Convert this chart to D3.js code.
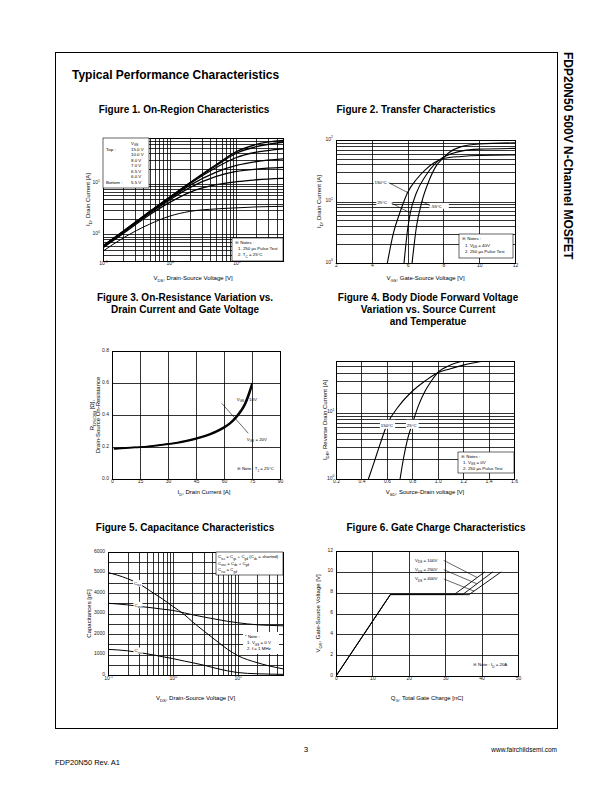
<!DOCTYPE html>
<html><head><meta charset="utf-8">
<script src="https://cdn.jsdelivr.net/npm/d3@7/dist/d3.min.js"></script>
<style>html,body{margin:0;padding:0;background:#fff;}svg{display:block}</style>
</head><body>
<script>
// ===== Figure 1: On-Region Characteristics =====
const fig1VDS = [0.1, 0.2, 0.5, 1, 2, 5, 10, 20, 50];
const fig1VGS = ["15.0 V", "10.0 V", "8.0 V", "7.0 V", "6.5 V", "6.0 V", "5.5 V"];
const fig1ID_15V  = [0.60, 1.16, 2.85, 5.5, 10.5, 24, 43, 60, 72];
const fig1ID_10V  = [0.60, 1.15, 2.82, 5.4, 10.3, 23, 40, 54, 66];
const fig1ID_8V   = [0.59, 1.13, 2.77, 5.3, 10.0, 21, 33, 42, 49];
const fig1ID_7V   = [0.58, 1.11, 2.70, 5.1, 9.3, 17, 23, 27.5, 31];
const fig1ID_6_5V = [0.57, 1.09, 2.62, 4.8, 8.4, 14, 17.5, 19.5, 21];
const fig1ID_6V   = [0.55, 1.04, 2.45, 4.3, 6.8, 9.6, 11, 12, 12.8];
const fig1ID_5_5V = [0.47, 0.85, 1.60, 2.3, 2.85, 3.2, 3.35, 3.5, 3.6];
const fig1XTicks = [0.1, 1, 10];
const fig1XTickLabels = ["10^{-1}", "10^{0}", "10^{1}"];
const fig1YTicks = [1, 10];
const fig1YTickLabels = ["10^{0}", "10^{1}"];

// ===== Figure 2: Transfer Characteristics =====
const fig2Temps = ["150°C", "25°C", "-55°C"];
const fig2VGS_150 = [4.87, 5.2, 5.6, 6.0, 6.5, 7.0, 7.5, 8.0, 9, 10, 12];
const fig2ID_150  = [1, 3, 7, 14, 23, 33, 43, 50, 54, 56, 57];
const fig2VGS_25  = [5.8, 6.0, 6.15, 6.5, 7.0, 7.5, 7.8, 8.2, 9, 10, 12];
const fig2ID_25   = [1, 3.5, 6.5, 14, 26, 40, 48, 56, 66, 71, 73];
const fig2VGS_m55 = [6.25, 6.5, 6.8, 7.2, 7.6, 7.9, 8.3, 9, 10, 12];
const fig2ID_m55  = [1, 4, 10, 22, 38, 48, 62, 78, 86, 90];
const fig2XTicks = [2, 4, 6, 8, 10, 12];
const fig2XTickLabels = ["2", "4", "6", "8", "10", "12"];
const fig2YTicks = [1, 10, 100];
const fig2YTickLabels = ["10^{0}", "10^{1}", "10^{2}"];

// ===== Figure 3: On-Resistance vs Drain Current =====
const fig3ID = [1, 5, 10, 15, 20, 25, 30, 35, 40, 45, 50, 55, 60, 63, 66, 69, 71, 73, 75];
const fig3R_10V = [0.19, 0.193, 0.197, 0.2, 0.205, 0.212, 0.22, 0.228, 0.24, 0.255, 0.272, 0.295, 0.325, 0.35, 0.385, 0.43, 0.47, 0.53, 0.6];
const fig3R_20V = [0.188, 0.191, 0.195, 0.198, 0.203, 0.21, 0.217, 0.225, 0.236, 0.25, 0.267, 0.289, 0.318, 0.342, 0.375, 0.418, 0.455, 0.51, 0.58];
const fig3XTicks = [0, 15, 30, 45, 60, 75, 90];
const fig3XTickLabels = ["0", "15", "30", "45", "60", "75", "90"];
const fig3YTicks = [0, 0.2, 0.4, 0.6, 0.8];
const fig3YTickLabels = ["0.0", "0.2", "0.4", "0.6", "0.8"];

// ===== Figure 4: Body Diode Forward Voltage =====
const fig4VSD_150 = [0.455, 0.5, 0.55, 0.6, 0.7, 0.8, 0.9, 1.0, 1.1, 1.2, 1.3, 1.37];
const fig4IS_150  = [1, 1.8, 3.5, 6.5, 13, 21, 30, 40, 46, 52, 57, 60];
const fig4VSD_25  = [0.704, 0.73, 0.76, 0.8, 0.85, 0.9, 0.95, 1.0, 1.1, 1.2];
const fig4IS_25   = [1, 2, 3.8, 6.8, 13, 21, 30, 40, 52, 60];
const fig4XTicks = [0.2, 0.4, 0.6, 0.8, 1.0, 1.2, 1.4, 1.6];
const fig4XTickLabels = ["0.2", "0.4", "0.6", "0.8", "1.0", "1.2", "1.4", "1.6"];
const fig4YTicks = [1, 10];
const fig4YTickLabels = ["10^{0}", "10^{1}"];

// ===== Figure 5: Capacitance Characteristics =====
const fig5VDS  = [0.1, 0.2, 0.3, 0.5, 0.7, 1, 1.5, 2, 3, 5, 7, 10, 20, 30, 50];
const fig5Ciss = [5000, 4700, 4450, 4000, 3700, 3350, 2950, 2600, 2150, 1600, 1250, 950, 600, 450, 300];
const fig5Coss = [3500, 3420, 3350, 3270, 3210, 3150, 3030, 2940, 2830, 2700, 2620, 2550, 2450, 2420, 2400];
const fig5Crss = [1250, 1180, 1100, 980, 890, 800, 680, 600, 480, 300, 200, 120, 60, 45, 30];
const fig5XTicks = [0.1, 1, 10];
const fig5XTickLabels = ["10^{-1}", "10^{0}", "10^{1}"];
const fig5YTicks = [0, 1000, 2000, 3000, 4000, 5000, 6000];
const fig5YTickLabels = ["0", "1000", "2000", "3000", "4000", "5000", "6000"];

// ===== Figure 6: Gate Charge Characteristics =====
const fig6Series = ["100V", "250V", "400V"];
const fig6QG_100V = [0, 15, 32.6, 40.9];
const fig6QG_250V = [0, 15, 34.9, 43.1];
const fig6QG_400V = [0, 15, 36.7, 45.4];
const fig6VGS     = [0, 7.85, 7.85, 10];
const fig6XTicks = [0, 10, 20, 30, 40, 50];
const fig6XTickLabels = ["0", "10", "20", "30", "40", "50"];
const fig6YTicks = [0, 2, 4, 6, 8, 10, 12];
const fig6YTickLabels = ["0", "2", "4", "6", "8", "10", "12"];

// ---------------- drawing ----------------
const TICK_FS = 5, AX_FS = 6, NOTE_FS = 4.4;
const svg = d3.select("body").append("svg").attr("width", 612).attr("height", 792)
  .style("font-family", "'Liberation Sans', Arial, Helvetica, sans-serif");

function parseRich(s) {
  const parts = []; const re = /([_^])\{([^}]*)\}/g; let last = 0, m;
  while ((m = re.exec(s))) {
    if (m.index > last) parts.push([s.slice(last, m.index), ""]);
    parts.push([m[2], m[1] === "_" ? "sub" : "sup"]);
    last = re.lastIndex;
  }
  if (last < s.length) parts.push([s.slice(last), ""]);
  return parts;
}
function rich(sel, s, fs) {
  sel.text(null);
  let cur = 0;
  parseRich(s).forEach(([t, k]) => {
    const off = k === "sub" ? fs * 0.35 : k === "sup" ? -fs * 0.45 : 0;
    const ts = sel.append("tspan").attr("dy", (off - cur).toFixed(2)).text(t);
    if (k) ts.attr("font-size", (fs * 0.7).toFixed(2));
    cur = off;
  });
  return sel;
}
function txt(parent, x, y, s, fs, o = {}) {
  const t = parent.append("text").attr("x", x).attr("y", y).attr("font-size", fs)
    .attr("fill", o.fill || "#000").attr("text-anchor", o.anchor || "start");
  if (o.weight) t.attr("font-weight", o.weight);
  if (o.rotate) t.attr("transform", `rotate(${o.rotate},${x},${y})`);
  rich(t, s, fs);
  return t;
}
function logGrid(lo, hi) {
  const v = [];
  for (let e = Math.floor(Math.log10(lo)); e <= Math.ceil(Math.log10(hi)); e++)
    for (let k = 1; k <= 9; k++) { const t = k * Math.pow(10, e); if (t > lo * 1.0001 && t < hi * 0.9999) v.push(+t.toPrecision(6)); }
  return v;
}
let clipN = 0;
function panel(c) {
  const x = (c.xLog ? d3.scaleLog() : d3.scaleLinear()).domain(c.xDomain).range([c.x0, c.x1]);
  const y = (c.yLog ? d3.scaleLog() : d3.scaleLinear()).domain(c.yDomain).range([c.y1, c.y0]);
  const g = svg.append("g");
  const id = "clip" + (clipN++);
  const W = c.x1 - c.x0, H = c.y1 - c.y0;
  g.append("clipPath").attr("id", id).append("rect").attr("x", c.x0).attr("y", c.y0).attr("width", W).attr("height", H);
  const gx = g.append("g").attr("transform", `translate(0,${c.y1})`)
    .call(d3.axisBottom(x).tickValues(c.xGrid).tickSize(-H).tickFormat(""));
  const gy = g.append("g").attr("transform", `translate(${c.x0},0)`)
    .call(d3.axisLeft(y).tickValues(c.yGrid).tickSize(-W).tickFormat(""));
  [gx, gy].forEach(s => { s.select(".domain").remove(); s.selectAll("line").attr("stroke", "#000").attr("stroke-width", c.gridW || 0.8).attr("shape-rendering", "crispEdges"); });
  const ax = g.append("g").attr("transform", `translate(0,${c.y1})`)
    .call(d3.axisBottom(x).tickValues(c.xTicks).tickSize(c.tick || 0).tickPadding(c.xPad || 4).tickFormat((d, i) => c.xTickLabels[i]));
  const ay = g.append("g").attr("transform", `translate(${c.x0},0)`)
    .call(d3.axisLeft(y).tickValues(c.yTicks).tickSize(c.tick || 0).tickPadding(c.yPad || 3).tickFormat((d, i) => c.yTickLabels[i]));
  [ax, ay].forEach(s => {
    s.select(".domain").remove(); s.attr("font-family", null).attr("font-size", null);
    s.selectAll("line").attr("stroke", "#000").attr("stroke-width", 0.6);
    s.selectAll("text").attr("font-size", TICK_FS).attr("fill", "#222")
      .each(function () { const t = d3.select(this); rich(t, t.text(), TICK_FS); });
  });
  const plot = g.append("g").attr("clip-path", `url(#${id})`);
  g.append("rect").attr("x", c.x0).attr("y", c.y0).attr("width", W).attr("height", H)
    .attr("fill", "none").attr("stroke", "#000").attr("stroke-width", 1).attr("shape-rendering", "crispEdges");
  txt(g, (c.x0 + c.x1) / 2 + (c.xLabelDx || 0), c.xLabelY, c.xLabel, AX_FS, { anchor: "middle" });
  c.yLabel.forEach((l, i) => txt(g, c.yLabelX[i], (c.y0 + c.y1) / 2, l, AX_FS, { anchor: "middle", rotate: -90 }));
  const ann = g.append("g");
  return { g, plot, ann, x, y };
}
function curve(p, xs, ys, w, opts = {}) {
  p.plot.append("path").datum(xs.map((v, i) => [v, ys[i]]))
    .attr("fill", "none").attr("stroke", opts.color || "#000").attr("stroke-width", w || 1)
    .attr("stroke-linejoin", "round")
    .attr("d", d3.line().x(d => p.x(d[0])).y(d => p.y(d[1])).curve(opts.linear ? d3.curveLinear : d3.curveMonotoneX));
}
function box(parent, x0, y0, x1, y1, stroke) {
  parent.append("rect").attr("x", x0).attr("y", y0).attr("width", x1 - x0).attr("height", y1 - y0)
    .attr("fill", "#fff").attr("stroke", stroke === false ? "none" : "#000").attr("stroke-width", 0.6);
}
function arrow(parent, x1, y1, x2, y2) {
  parent.append("line").attr("x1", x1).attr("y1", y1).attr("x2", x2).attr("y2", y2)
    .attr("stroke", "#000").attr("stroke-width", 0.6);
}

// page frame and headings
svg.append("rect").attr("x", 55).attr("y", 52).attr("width", 502).attr("height", 676)
  .attr("fill", "none").attr("stroke", "#000").attr("stroke-width", 1).attr("shape-rendering", "crispEdges");
txt(svg, 72, 79, "Typical Performance Characteristics", 12, { weight: "bold" });
svg.append("text").attr("transform", "translate(564,52) rotate(90)").attr("font-size", 12)
  .attr("font-weight", "bold").text("FDP20N50  500V N-Channel MOSFET");
txt(svg, 306, 752, "3", 8, { anchor: "middle" });
txt(svg, 557, 752, "www.fairchildsemi.com", 6.5, { anchor: "end" });
txt(svg, 55, 765, "FDP20N50 Rev. A1", 7.5);

const TFS = 10;
txt(svg, 184, 112.5, "Figure 1. On-Region Characteristics", TFS, { anchor: "middle", weight: "bold" });
txt(svg, 416, 112.5, "Figure 2. Transfer Characteristics", TFS, { anchor: "middle", weight: "bold" });
txt(svg, 185, 300.5, "Figure 3. On-Resistance Variation vs.", TFS, { anchor: "middle", weight: "bold" });
txt(svg, 185, 312.5, "Drain Current and Gate Voltage", TFS, { anchor: "middle", weight: "bold" });
txt(svg, 428, 300.5, "Figure 4. Body Diode Forward Voltage", TFS, { anchor: "middle", weight: "bold" });
txt(svg, 428, 312.5, "Variation vs. Source Current", TFS, { anchor: "middle", weight: "bold" });
txt(svg, 428, 324.5, "and Temperatue", TFS, { anchor: "middle", weight: "bold" });
txt(svg, 185, 531, "Figure 5. Capacitance Characteristics", TFS, { anchor: "middle", weight: "bold" });
txt(svg, 436, 531, "Figure 6. Gate Charge Characteristics", TFS, { anchor: "middle", weight: "bold" });

// ---- Figure 1 ----
{
  const p = panel({ x0: 103, x1: 283, y0: 138, y1: 261, xLog: true, yLog: true, xDomain: [0.1, 50], yDomain: [0.3, 80],
    xGrid: logGrid(0.1, 50), yGrid: logGrid(0.3, 80), xTicks: fig1XTicks, xTickLabels: fig1XTickLabels,
    yTicks: fig1YTicks, yTickLabels: fig1YTickLabels, xLabel: "V_{DS}, Drain-Source Voltage [V]", xLabelY: 280,
    yLabel: ["I_{D}, Drain Current [A]"], yLabelX: [90] });
  [fig1ID_15V, fig1ID_10V, fig1ID_8V, fig1ID_7V, fig1ID_6_5V, fig1ID_6V].forEach(s => curve(p, fig1VDS, s, 1.3));
  curve(p, fig1VDS, fig1ID_5_5V, 1.0);
  box(p.ann, 103, 138, 149, 188);
  txt(p.ann, 131, 144.5, "V_{GS}", NOTE_FS);
  txt(p.ann, 106, 150.5, "Top :", NOTE_FS);
  txt(p.ann, 106, 184, "Bottom :", NOTE_FS);
  fig1VGS.forEach((v, i) => txt(p.ann, 131, 150.5 + i * 5.58, v, NOTE_FS));
  box(p.ann, 232, 238, 283, 261);
  txt(p.ann, 235, 244, "※ Notes :", NOTE_FS);
  txt(p.ann, 238, 250, "1. 250 μs Pulse Test", NOTE_FS);
  txt(p.ann, 238, 256, "2. T_{C} = 25°C", NOTE_FS);
}

// ---- Figure 2 ----
{
  const p = panel({ x0: 336, x1: 515, y0: 140, y1: 263, yLog: true, xDomain: [2, 12], yDomain: [1, 100],
    xGrid: [4, 6, 8, 10], yGrid: logGrid(1, 100), xTicks: fig2XTicks, xTickLabels: fig2XTickLabels,
    yTicks: fig2YTicks, yTickLabels: fig2YTickLabels, xLabel: "V_{GS}, Gate-Source Voltage [V]", xLabelY: 280,
    yLabel: ["I_{D}, Drain Current [A]"], yLabelX: [321] });
  curve(p, fig2VGS_150, fig2ID_150, 1.1);
  curve(p, fig2VGS_25, fig2ID_25, 1.1);
  curve(p, fig2VGS_m55, fig2ID_m55, 1.1);
  const a = p.ann, x = p.x, y = p.y;
  box(a, x(4.1), y(23), x(5.0), y(18.2), false);
  txt(a, x(4.15), y(19.2), fig2Temps[0], NOTE_FS);
  arrow(a, x(4.95), y(20.2), x(6.0), y(14));
  box(a, x(4.25), y(11), x(5.15), y(8.6), false);
  txt(a, x(4.3), y(9.1), fig2Temps[1], NOTE_FS);
  arrow(a, x(5.1), y(9.4), x(6.15), y(6.5));
  box(a, x(7.22), y(9.5), x(8.3), y(7.6), false);
  txt(a, x(7.28), y(7.95), fig2Temps[2], NOTE_FS);
  arrow(a, x(7.25), y(8.6), x(6.8), y(10));
  box(a, 459, 234, 513, 258);
  txt(a, 462, 240, "※ Notes :", NOTE_FS);
  txt(a, 465, 246.5, "1. V_{DS} = 40V", NOTE_FS);
  txt(a, 465, 253, "2. 250 μs Pulse Test", NOTE_FS);
}

// ---- Figure 3 ----
{
  const p = panel({ x0: 112, x1: 280, y0: 351, y1: 479, xDomain: [0, 90], yDomain: [0, 0.8],
    xGrid: [15, 30, 45, 60, 75], yGrid: [0.2, 0.4, 0.6], xTicks: fig3XTicks, xTickLabels: fig3XTickLabels,
    yTicks: fig3YTicks, yTickLabels: fig3YTickLabels, xLabel: "I_{D}, Drain Current [A]", xLabelY: 494, xLabelDx: 8,
    yLabel: ["R_{DS(ON)} [Ω],", "Drain-Source On-Resistance"], yLabelX: [94, 99.5] });
  curve(p, fig3ID, fig3R_10V, 1.5);
  curve(p, fig3ID, fig3R_20V, 1.5);
  const a = p.ann, x = p.x, y = p.y;
  txt(a, x(66.8), y(0.49), "V_{GS} = 10V", NOTE_FS);
  arrow(a, x(58.8), y(0.473), x(73.0), y(0.286));
  txt(a, x(72.2), y(0.24), "V_{GS} = 20V", NOTE_FS);
  txt(a, x(66.8), y(0.055), "※ Note : T_{J} = 25°C", NOTE_FS);
}

// ---- Figure 4 ----
{
  const p = panel({ x0: 336, x1: 514, y0: 361, y1: 479, yLog: true, xDomain: [0.2, 1.6], yDomain: [1, 60],
    xGrid: [0.4, 0.6, 0.8, 1.0, 1.2, 1.4], yGrid: logGrid(1, 60), xTicks: fig4XTicks, xTickLabels: fig4XTickLabels,
    yTicks: fig4YTicks, yTickLabels: fig4YTickLabels, xLabel: "V_{SD}, Source-Drain voltage [V]", xLabelY: 494,
    yLabel: ["I_{DR}, Reverse Drain Current [A]"], yLabelX: [327], yPad: 1.5 });
  curve(p, fig4VSD_150, fig4IS_150, 1.1);
  curve(p, fig4VSD_25, fig4IS_25, 1.1);
  const a = p.ann, x = p.x, y = p.y;
  box(a, x(0.545), y(7.8), x(0.665), y(5.7), false);
  txt(a, x(0.552), y(6.05), "150°C", NOTE_FS);
  box(a, x(0.75), y(7.8), x(0.85), y(5.7), false);
  txt(a, x(0.757), y(6.05), "25°C", NOTE_FS);
  box(a, 458, 452, 514, 473);
  txt(a, 461, 457.5, "※ Notes :", NOTE_FS);
  txt(a, 463, 463.5, "1. V_{GS} = 0V", NOTE_FS);
  txt(a, 463, 469.5, "2. 250 μs Pulse Test", NOTE_FS);
}

// ---- Figure 5 ----
{
  const p = panel({ x0: 108, x1: 283, y0: 552, y1: 675, xLog: true, xDomain: [0.1, 50], yDomain: [0, 6000],
    xGrid: logGrid(0.1, 50), yGrid: d3.range(500, 6000, 500), xTicks: fig5XTicks, xTickLabels: fig5XTickLabels,
    yTicks: fig5YTicks, yTickLabels: fig5YTickLabels, xLabel: "V_{DS}, Drain-Source Voltage [V]", xLabelY: 700,
    yLabel: ["Capacitances [pF]"], yLabelX: [91], xPad: 5 });
  curve(p, fig5VDS, fig5Ciss, 1);
  curve(p, fig5VDS, fig5Coss, 1);
  curve(p, fig5VDS, fig5Crss, 1);
  const a = p.ann, x = p.x, y = p.y;
  [["C_{iss}", 0.28, 4460], ["C_{oss}", 0.285, 3400], ["C_{rss}", 0.285, 1170]].forEach(([l, vx, vy]) => {
    box(a, x(vx) - 4, y(vy) - 3.5, x(vx) + 5, y(vy) + 3, false);
    txt(a, x(vx) - 3, y(vy) + 1.2, l, NOTE_FS);
  });
  box(a, 216, 552, 283, 575);
  txt(a, 218, 558, "C_{iss} = C_{gs} + C_{gd} (C_{ds} = shorted)", NOTE_FS);
  txt(a, 218, 564.5, "C_{oss} = C_{ds} + C_{gd}", NOTE_FS);
  txt(a, 218, 571, "C_{rss} = C_{gd}", NOTE_FS);
  box(a, 243, 632, 279, 654, false);
  txt(a, 245, 638, "* Note :", NOTE_FS);
  txt(a, 247, 644, "1. V_{GS} = 0 V", NOTE_FS);
  txt(a, 247, 650, "2. f = 1 MHz", NOTE_FS);
}

// ---- Figure 6 ----
{
  const p = panel({ x0: 336, x1: 518, y0: 551, y1: 676, xDomain: [0, 50], yDomain: [0, 12],
    xGrid: [10, 20, 30, 40], yGrid: [2, 4, 6, 8, 10], xTicks: fig6XTicks, xTickLabels: fig6XTickLabels,
    yTicks: fig6YTicks, yTickLabels: fig6YTickLabels, xLabel: "Q_{G}, Total Gate Charge [nC]", xLabelY: 700,
    yLabel: ["V_{GS}, Gate-Source Voltage [V]"], yLabelX: [320] });
  const series = [fig6QG_100V, fig6QG_250V, fig6QG_400V];
  p.plot.append("path").datum([[fig6QG_100V[1], fig6VGS[1]], [fig6QG_400V[2], fig6VGS[2]]])
    .attr("stroke", "#777").attr("stroke-width", 2).attr("fill", "none")
    .attr("d", d3.line().x(d => p.x(d[0])).y(d => p.y(d[1])));
  series.forEach(s => curve(p, s, fig6VGS, 0.9, { linear: true }));
  const a = p.ann, x = p.x, y = p.y;
  const ends = [9.45, 8.85, 8.15];
  series.forEach((s, i) => {
    const ty = y(11.1) + i * 9.3;
    txt(a, x(21.7), ty + 1.5, "V_{DS} = " + fig6Series[i], NOTE_FS);
    const vq = s[2] + (ends[i] - fig6VGS[2]) / (fig6VGS[3] - fig6VGS[2]) * (s[3] - s[2]);
    arrow(a, x(29.6), ty, x(vq), y(ends[i]));
  });
  txt(a, x(37.6), y(0.95), "※ Note : I_{D} = 20A", NOTE_FS);
}
</script>
</body></html>
